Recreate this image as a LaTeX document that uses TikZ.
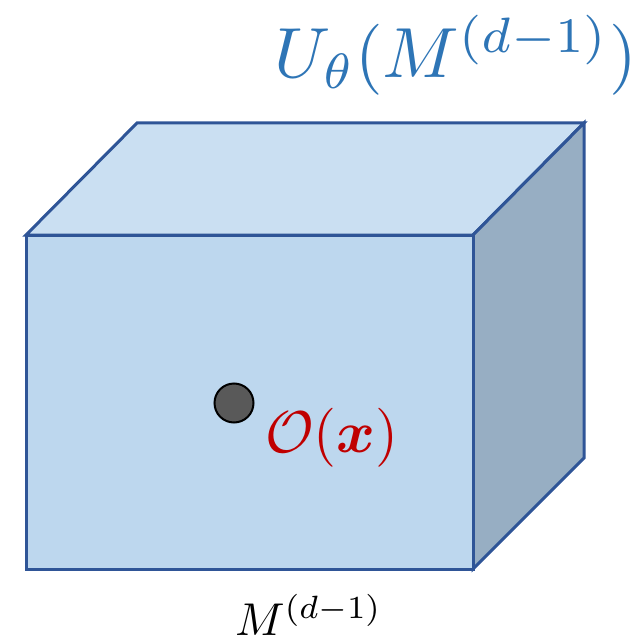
\documentclass[tikz,border=0pt]{standalone}
\usepackage{graphicx}
\usepackage{amsmath,amssymb,bm}
\definecolor{edge}{HTML}{2F5597}
\definecolor{frontc}{HTML}{BDD7EE}
\definecolor{topc}{HTML}{CADFF2}
\definecolor{sidec}{HTML}{97AEC3}
\definecolor{bluetxt}{HTML}{2E75B6}
\definecolor{redtxt}{HTML}{C00000}
\definecolor{dotc}{HTML}{595959}
\begin{document}
\begin{tikzpicture}[x=1pt,y=-1pt,
  face/.style={draw=edge,line width=3pt,line join=miter},
  lbl/.style={inner sep=0pt}]
\useasboundingbox (0,0) rectangle (641,644);
% cube corners
\coordinate (fa) at (26,235);
\coordinate (fb) at (473,235);
\coordinate (fc) at (473,569);
\coordinate (fd) at (26,569);
\coordinate (ba) at (137,123);
\coordinate (bb) at (584,123);
\coordinate (bc) at (584,458);
\path[face,fill=topc] (fa) -- (ba) -- (bb) -- (fb) -- cycle;
\path[face,fill=sidec] (fb) -- (bb) -- (bc) -- (fc) -- cycle;
\path[face,fill=frontc] (fa) -- (fb) -- (fc) -- (fd) -- cycle;
% point
\node[circle,fill=dotc,draw=black,line width=2pt,minimum size=39pt,inner sep=0pt] (pt) at (234,403) {};
\node[lbl,anchor=base west,text=redtxt] (ox) at (265,452) {\scalebox{5.9}{$\mathcal{O}(\bm{x})$}};
\node[lbl,anchor=base,text=bluetxt] (ut) at (456,78) {\scalebox{7.1}{$U_\theta(M^{(d-1)})$}};
\node[lbl,anchor=base west] (m) at (235,635) {\scalebox{4.6}{$M^{(d-1)}$}};
\end{tikzpicture}
\end{document}
